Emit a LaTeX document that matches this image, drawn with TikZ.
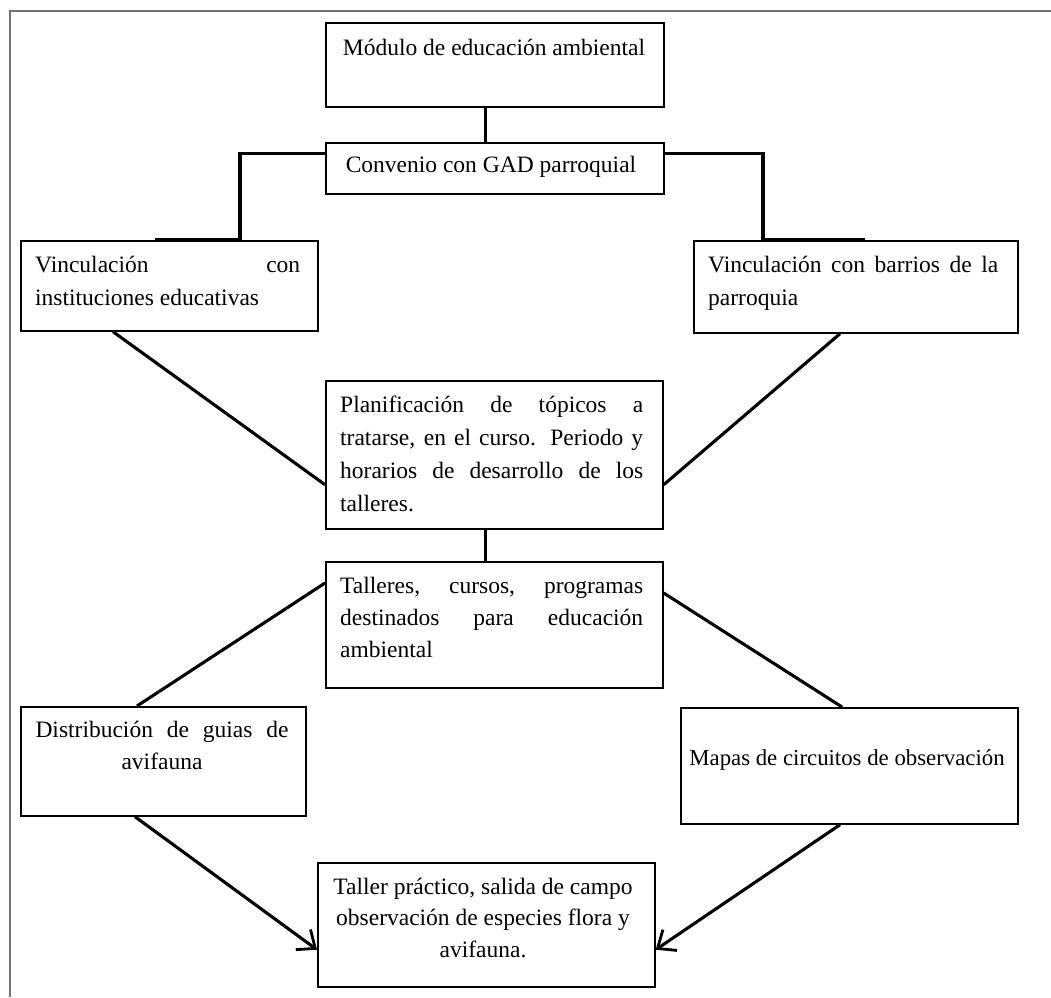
\documentclass[tikz,border=0pt]{standalone}
\usepackage{fontspec}
\setmainfont{Liberation Serif}
\usetikzlibrary{calc,arrows.meta}
\newcommand{\jline}[2]{\makebox[#1][s]{#2}}
\begin{document}
\begin{tikzpicture}[x=1pt,y=-1pt,
  box/.style={draw=black,line width=1.7pt,inner sep=0pt,anchor=north west},
  txt/.style={inner sep=0pt,anchor=north west,align=left,font={\fontsize{23.5}{33}\selectfont}},
  ctxt/.style={inner sep=0pt,anchor=north,align=center,font={\fontsize{23.5}{32}\selectfont}},
  conn/.style={line width=3.1pt,draw=black},
  arr/.style={conn,-{Straight Barb[length=15pt,width=25pt,line width=2.8pt]}},
  frameline/.style={draw=black!55,line width=1.6pt}]
\useasboundingbox (0,0) rectangle (1051,997);
\draw[frameline] (1051,11) -- (10,11) -- (10,997);

% boxes
\node[box,minimum width=338,minimum height=84] (mod) at (325,22) {};
\node[box,minimum width=338,minimum height=51] (conv) at (325,142) {};
\node[box,minimum width=297,minimum height=90] (v1) at (20,240) {};
\node[box,minimum width=324,minimum height=92] (v2) at (693,240) {};
\node[box,minimum width=337,minimum height=148] (plan) at (325,380) {};
\node[box,minimum width=337,minimum height=126] (tall) at (325,561) {};
\node[box,minimum width=285,minimum height=109] (dist) at (20,706) {};
\node[box,minimum width=337,minimum height=116] (mapas) at (680,707) {};
\node[box,minimum width=337,minimum height=124] (taller) at (317,862) {};

% texts
\node[inner sep=0pt,anchor=base,font={\fontsize{23.5}{33}\selectfont}] (modT) at (494,55) {Módulo de educación ambiental};
\node[inner sep=0pt,anchor=base,font={\fontsize{23.5}{33}\selectfont}] (convT) at (491,172) {Convenio con GAD parroquial};
\node[txt] (v1T) at (35,252) {\rule{0pt}{20pt}\jline{265pt}{Vinculación con}\\instituciones educativas};
\node[txt] (v2T) at (708,252) {\rule{0pt}{20pt}\jline{290pt}{Vinculación con barrios de la}\\parroquia};
\node[txt] (planT) at (340,392) {\rule{0pt}{20pt}\jline{303pt}{Planificación de tópicos a}\\\jline{303pt}{tratarse, en el curso. Periodo y}\\\jline{303pt}{horarios de desarrollo de los}\\talleres.};
\node[txt,font={\fontsize{23.5}{32}\selectfont}] (tallT) at (340,573) {\rule{0pt}{20pt}\jline{303pt}{Talleres, cursos, programas}\\\jline{303pt}{destinados para educación}\\ambiental};
\node[ctxt] (distT) at (162,717) {\rule{0pt}{20pt}\jline{253pt}{Distribución de guias de}\\avifauna};
\node[inner sep=0pt,anchor=base,font={\fontsize{22.8}{33}\selectfont}] (mapasT) at (847,765) {Mapas de circuitos de observación};
\node[ctxt,font={\fontsize{23.5}{31.5}\selectfont}] (tallerT) at (483,874) {\rule{0pt}{20pt}Taller práctico, salida de campo\\observación de especies flora y\\avifauna.};

% connectors
\draw[conn] ([xshift=-9pt]mod.south) -- ([xshift=-9pt]conv.north);
\draw[conn] ([yshift=14.5pt]conv.west) -| (v1.north -| 240,0) -- (v1.north -| 155,0);
\draw[conn] ([yshift=14.5pt]conv.east) -| (v2.north -| 763,0) -- (v2.north -| 865,0);
\draw[conn] ($(v1.south west)+(93,0)$) -- ($(plan.south west)+(0,-45)$);
\draw[conn] ($(v2.south west)+(147,0)$) -- ($(plan.south east)+(0,-45)$);
\draw[conn] ([xshift=-8.5pt]plan.south) -- ([xshift=-8.5pt]tall.north);
\draw[conn] ($(tall.north west)+(0,22)$) -- ($(dist.north west)+(117,0)$);
\draw[conn] ($(tall.north east)+(0,32)$) -- ($(mapas.north west)+(162,0)$);
\draw[arr] ($(dist.south west)+(115,0)$) -- ($(taller.south west)+(0,-38)$);
\draw[arr] ($(mapas.south west)+(160,0)$) -- ($(taller.south east)+(0,-38)$);
\end{tikzpicture}
\end{document}
